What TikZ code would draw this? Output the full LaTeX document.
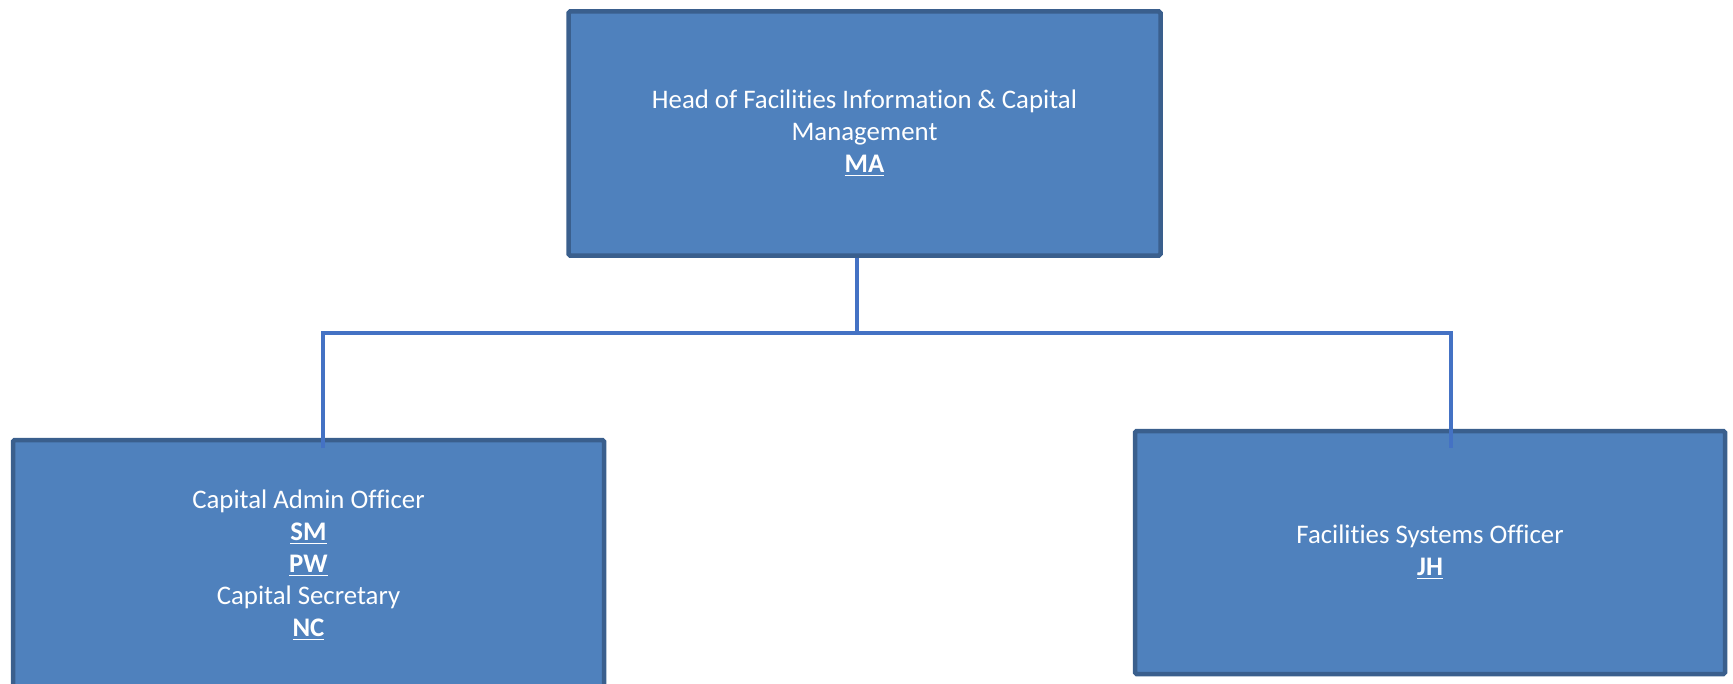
\documentclass[tikz,border=0pt]{standalone}
\usepackage{fontspec}
\setmainfont[RawFeature={-liga;-calt;-dlig}]{Carlito}
\usepackage{tikz}

\definecolor{boxfill}{HTML}{4F81BD}
\definecolor{boxline}{HTML}{3A5F8D}
\definecolor{linkblue}{HTML}{4472C4}

\tikzset{
  post/.style={draw=boxline, line width=2.25pt, fill=boxfill, text=white,
    align=center, font=\fontsize{13.4}{16}\selectfont, rounded corners=0.8pt},
  link/.style={draw=linkblue, line width=2.4pt},
}
\newcommand{\initials}[1]{\underline{\textbf{#1}}}

\begin{document}
\begin{tikzpicture}[x=0.5pt,y=-0.5pt]
\useasboundingbox (0,0) rectangle (1733,684);
\clip (0,0) rectangle (1733,684);

% Boxes for each post.
\node[post, minimum width=296pt, minimum height=122pt] (head) at (864.5,133.5)
  {Head of Facilities Information \& Capital\\ Management\\ \initials{MA}};
\node[post, minimum width=295.5pt, minimum height=125pt] (admin) at (308.5,565)
  {Capital Admin Officer\\ \initials{SM}\\ \initials{PW}\\ Capital Secretary\\ \initials{NC}};
\node[post, minimum width=295pt, minimum height=121.5pt] (systems) at (1430,552.5)
  {Facilities Systems Officer\\ \initials{JH}};

% Connector bus and drops.
\coordinate (bus) at (857,333);
\coordinate (leftdrop) at (323,448);
\coordinate (rightdrop) at (1451,448);

\draw[link] (head.south -| bus) -- (bus);
\draw[link] (leftdrop) -- (leftdrop |- bus) -- (rightdrop |- bus) -- (rightdrop);
\end{tikzpicture}
\end{document}
